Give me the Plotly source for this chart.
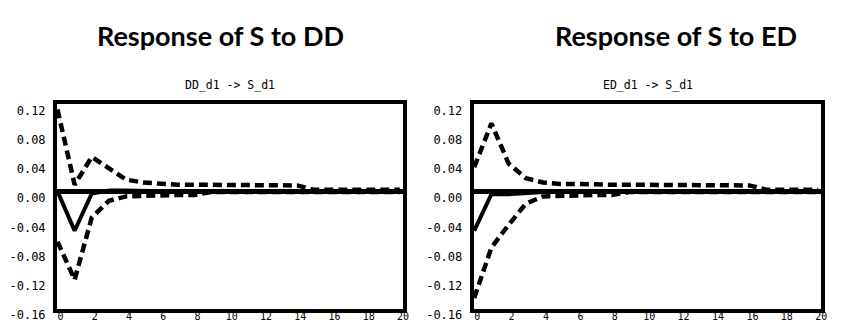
import plotly.graph_objects as go

W, H = 854, 323

# ---- data ----
periods = list(range(0, 21))

dd_upper = [0.112, 0.009, 0.047, 0.031, 0.016, 0.012, 0.010, 0.009, 0.009, 0.009, 0.009,
            0.009, 0.008, 0.008, 0.008, 0.002, 0.002, 0.002, 0.002, 0.002, 0.002]
dd_resp = [0.0, -0.054, -0.003, 0.001, 0.001, 0.0, 0.0, 0.0, 0.0, 0.0, 0.0,
           0.0, 0.0, 0.0, 0.0, 0.0, 0.0, 0.0, 0.0, 0.0, 0.0]
dd_lower = [-0.069, -0.121, -0.036, -0.013, -0.007, -0.006, -0.006, -0.005, -0.005, -0.001, -0.001,
            -0.001, -0.001, -0.001, -0.001, -0.001, -0.001, -0.001, -0.001, -0.001, -0.001]

ed_upper = [0.033, 0.093, 0.038, 0.018, 0.012, 0.010, 0.010, 0.009, 0.009, 0.009, 0.009,
            0.009, 0.009, 0.009, 0.008, 0.008, 0.008, 0.002, 0.002, 0.002, 0.002]
ed_resp = [-0.054, -0.004, -0.004, -0.002, -0.001, 0.0, 0.0, 0.0, 0.0, 0.0, 0.0,
           0.0, 0.0, 0.0, 0.0, 0.0, 0.0, 0.0, 0.0, 0.0, 0.0]
ed_lower = [-0.146, -0.077, -0.046, -0.017, -0.007, -0.006, -0.005, -0.005, -0.005, -0.001, -0.001,
            -0.001, -0.001, -0.001, -0.001, -0.001, -0.001, -0.001, -0.001, -0.001, -0.001]

y_tickvals = [-0.16, -0.12, -0.08, -0.04, 0.00, 0.04, 0.08, 0.12]
y_ticktext = ["-0.16", "-0.12", "-0.08", "-0.04", "0.00", "0.04", "0.08", "0.12"]
x_tickvals = [0, 2, 4, 6, 8, 10, 12, 14, 16, 18, 20]

big_titles = ["Response of S to DD", "Response of S to ED"]
small_titles = ["DD_d1 -> S_d1", "ED_d1 -> S_d1"]

# ---- layout geometry (pixels) ----
left_px = [(57, 403), (473.7, 821.3)]
top_px, bottom_px = 103.5, 308.5

fig = go.Figure()

panels = [(dd_upper, dd_resp, dd_lower), (ed_upper, ed_resp, ed_lower)]
for i, (up, resp, lo) in enumerate(panels):
    xa = "x" if i == 0 else "x2"
    ya = "y" if i == 0 else "y2"
    dash_style = dict(color="black", width=4.5, dash="9px,5px")
    fig.add_trace(go.Scatter(x=periods, y=up, mode="lines", line=dash_style,
                             xaxis=xa, yaxis=ya, showlegend=False))
    fig.add_trace(go.Scatter(x=periods, y=lo, mode="lines", line=dash_style,
                             xaxis=xa, yaxis=ya, showlegend=False))
    fig.add_trace(go.Scatter(x=periods, y=resp, mode="lines",
                             line=dict(color="black", width=4),
                             xaxis=xa, yaxis=ya, showlegend=False))

mono = "DejaVu Sans Mono"
axis_common = dict(showgrid=False, showline=True, mirror=True, linewidth=4,
                   linecolor="black", ticks="", automargin=False,
                   ticklabeloverflow="allow")

for i in range(2):
    sfx = "" if i == 0 else "2"
    x0, x1 = left_px[i]
    fig.layout["xaxis" + sfx] = dict(
        axis_common, domain=[x0 / W, x1 / W], range=[-0.03, 20.18],
        tickvals=x_tickvals, anchor="y" + sfx, zeroline=False,
        tickfont=dict(family=mono, size=10, color="black"),
        ticklabelshift=3, ticklabelstandoff=-5,
    )
    fig.layout["yaxis" + sfx] = dict(
        axis_common, domain=[(H - bottom_px) / H, (H - top_px) / H],
        range=[-0.1605, 0.1202], tickvals=y_tickvals, ticktext=y_ticktext,
        anchor="x" + sfx, zeroline=True, zerolinecolor="black", zerolinewidth=5,
        tickfont=dict(family=mono, size=12, color="black"),
        ticklabelshift=7, ticklabelstandoff=5,
    )

annotations = []
title_cx = [220, 676]
for i in range(2):
    annotations.append(dict(text="<b>" + big_titles[i] + "</b>", x=title_cx[i] / W, y=1 - 35 / H,
                            xref="paper", yref="paper", showarrow=False,
                            xanchor="center", yanchor="middle",
                            font=dict(family="Lato", size=27, color="black")))
    cx = (left_px[i][0] + left_px[i][1]) / 2
    annotations.append(dict(text=small_titles[i], x=cx / W, y=1 - 85 / H,
                            xref="paper", yref="paper", showarrow=False,
                            xanchor="center", yanchor="middle",
                            font=dict(family=mono, size=11.5, color="black")))

fig.update_layout(
    width=W, height=H, margin=dict(l=0, r=0, t=0, b=0),
    paper_bgcolor="white", plot_bgcolor="white",
    annotations=annotations,
)

fig.write_html("out.html")
